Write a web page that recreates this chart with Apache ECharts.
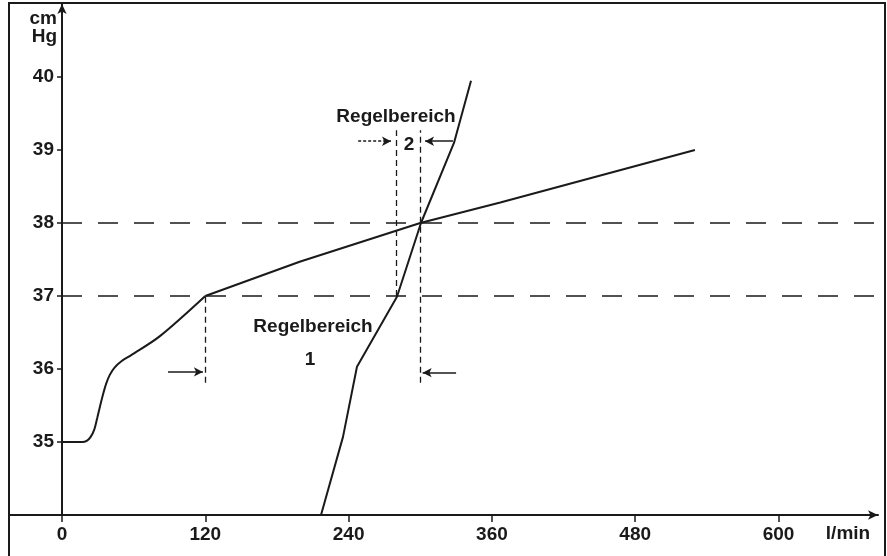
<!DOCTYPE html>
<html>
<head>
<meta charset="utf-8">
<script src="https://cdn.jsdelivr.net/npm/echarts@6/dist/echarts.min.js"></script>
<style>
html,body{margin:0;padding:0;background:#fff;}
#c{width:887px;height:556px;}
</style>
</head>
<body>
<div id="c"></div>
<script>
// ---- data ----
const xTicks = [0, 120, 240, 360, 480, 600];
const yTicks = [35, 36, 37, 38, 39, 40];
const xMax = 683.3;
const yMin = 34, yMax = 41;
// curve 1 (lower smooth part and upper straight part)
const curve1Low = [[0,35],[17,35],[21,35.02],[24,35.07],[27,35.17],[29.5,35.33],[32,35.5],[34.5,35.66],[37,35.8],[40,35.92],[44,36.02],[50,36.11],[58,36.19],[82,36.45],[120,37]];
const curve1High = [[120,37],[199,37.47],[300,38],[367,38.28],[530,39]];
// curve 2 (steep)
const curve2 = [[216.9,34],[235.3,35.07],[247,36.03],[280.5,36.99],[300.6,38],[328.3,39.1],[342.5,39.95]];
// dashed reference levels
const levels = [37, 38];
// control range boundaries: [x, yFrom, yTo]
const bounds = [[120,35.81,37],[280,37,39.27],[300,35.81,39.27]];
// arrows: [xFrom, xTo, y]
const arrows = [[88.8,118,35.96],[330,302,35.95],[248,275.5,39.12],[327.4,304,39.12]];
const arrowDash = ['solid','solid','dotted','solid'];
const labels = ['Regelbereich', '2', 'Regelbereich', '1'];
const yName = ['cm', 'Hg'];
const xName = 'l/min';

const ink = '#1a1a1a';
const font = '"Liberation Sans", Arial, Helvetica, sans-serif';

const chart = echarts.init(document.getElementById('c'), null, {renderer:'canvas'});

const lineBase = {type:'line', symbol:'none', silent:true, animation:false, z:5};

const boundMarks = bounds.map(b => [{coord:[b[0], b[1]]}, {coord:[b[0], b[2]]}]);
const arrowMarks = arrows.map((a, i) => [
  {coord:[a[0], a[2]], lineStyle:{type: arrowDash[i] === 'dotted' ? [3,2] : 'solid'}},
  {coord:[a[1], a[2]]}
]);

const txt = (text, x, y, align) => ({
  type:'text', x:x, y:y, silent:true, z:20,
  style:{text:text, fill:ink, font:'bold 19px ' + font, textAlign:align || 'center', textVerticalAlign:'middle'}
});

chart.setOption({
  animation:false,
  backgroundColor:'#fff',
  grid:{left:62, top:4, right:9, bottom:41, containLabel:false},
  xAxis:{
    type:'value', min:0, max:xMax,
    axisLine:{show:true, lineStyle:{color:ink, width:2}, symbol:['none','arrow'], symbolSize:[7,10]},
    axisTick:{show:true, length:7, lineStyle:{color:ink, width:1.5}, customValues:xTicks},
    axisLabel:{show:true, margin:10, color:ink, fontSize:19, fontWeight:'bold', fontFamily:font, customValues:xTicks},
    splitLine:{show:false}
  },
  yAxis:{
    type:'value', min:yMin, max:yMax,
    axisLine:{show:true, onZero:false, lineStyle:{color:ink, width:2}, symbol:['none','arrow'], symbolSize:[7,10]},
    axisTick:{show:true, length:5, lineStyle:{color:ink, width:1.5}, customValues:yTicks},
    axisLabel:{show:true, margin:8, color:ink, fontSize:19, fontWeight:'bold', fontFamily:font, customValues:yTicks},
    splitLine:{show:false}
  },
  series:[
    Object.assign({}, lineBase, {
      data:curve1Low, smooth:0.3,
      lineStyle:{color:ink, width:2}
    }),
    Object.assign({}, lineBase, {
      data:curve1High, lineStyle:{color:ink, width:2}
    }),
    Object.assign({}, lineBase, {
      data:curve2, lineStyle:{color:ink, width:2},
      markLine:{
        silent:true, symbol:'none', animation:false, label:{show:false},
        lineStyle:{color:ink, width:1.6, type:[20,16]},
        data: levels.map(v => ({yAxis:v}))
      }
    }),
    Object.assign({}, lineBase, {
      data:[],
      markLine:{
        silent:true, symbol:'none', animation:false, label:{show:false},
        lineStyle:{color:ink, width:1.3, type:[6,4]},
        data: boundMarks
      }
    }),
    Object.assign({}, lineBase, {
      data:[],
      markLine:{
        silent:true, symbol:['none','arrow'], symbolSize:[7,9], animation:false, label:{show:false},
        lineStyle:{color:ink, width:1.5, type:'solid'},
        data: arrowMarks
      }
    })
  ],
  graphic:[
    {type:'rect', silent:true, z:1, shape:{x:9, y:3, width:876, height:570},
     style:{fill:'none', stroke:ink, lineWidth:2}},
    {type:'line', silent:true, z:2, shape:{x1:9, y1:515, x2:62, y2:515},
     style:{stroke:ink, lineWidth:2}},
    txt(labels[0], 396, 117),
    txt(labels[1], 409, 145),
    txt(labels[2], 313, 327),
    txt(labels[3], 310, 360),
    txt(yName[0], 57, 19, 'right'),
    txt(yName[1], 57, 37, 'right'),
    txt(xName, 848, 534)
  ]
});
</script>
</body>
</html>
